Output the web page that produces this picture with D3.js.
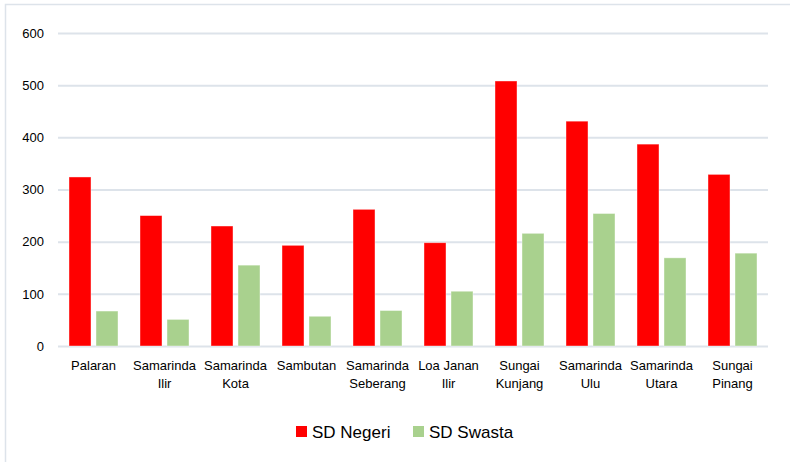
<!DOCTYPE html>
<html>
<head>
<meta charset="utf-8">
<script src="https://cdn.jsdelivr.net/npm/d3@7"></script>
<style>
  body { margin: 0; background: #fff; }
  text { font-family: "Liberation Sans", Arial, sans-serif; fill: #000; }
</style>
</head>
<body>
<div id="chart"></div>
<script>
// data
const categories = [
  ["Palaran"], ["Samarinda", "Ilir"], ["Samarinda", "Kota"], ["Sambutan"],
  ["Samarinda", "Seberang"], ["Loa Janan", "Ilir"], ["Sungai", "Kunjang"],
  ["Samarinda", "Ulu"], ["Samarinda", "Utara"], ["Sungai", "Pinang"]
];
const seriesNames = ["SD Negeri", "SD Swasta"];
const sdNegeri = [324, 250, 230, 193, 262, 198, 508, 431, 387, 329];
const sdSwasta = [67, 51, 155, 57, 68, 105, 216, 254, 169, 178];
const yTicks = [0, 100, 200, 300, 400, 500, 600];
const colors = ["#ff0000", "#a9d18e"];

const width = 790, height = 462;
const margin = {top: 33, left: 58, right: 22, bottom: 116};

const svg = d3.select("#chart").append("svg")
  .attr("width", width)
  .attr("height", height);

// outer frame
svg.append("rect")
  .attr("x", 5.5).attr("y", 4.5)
  .attr("width", 800).attr("height", 480)
  .attr("fill", "none")
  .attr("stroke", "#dde3ea")
  .attr("stroke-width", 1.5);

const keys = categories.map(d => d.join(" "));

const xScale = d3.scaleBand()
  .domain(keys)
  .range([margin.left, width - margin.right]);

const xInner = d3.scaleBand()
  .domain(seriesNames)
  .range([11, 60])
  .paddingInner(0.185);

const yScale = d3.scaleLinear()
  .domain([0, 600])
  .range([height - margin.bottom, margin.top]);

// gridlines
const yAxis = svg.append("g")
  .attr("transform", `translate(${margin.left},0)`)
  .call(d3.axisLeft(yScale).tickValues(yTicks)
    .tickSize(-(width - margin.left - margin.right)).tickPadding(14));
yAxis.select(".domain").remove();
yAxis.selectAll(".tick line").attr("stroke", "#dde3ea").attr("stroke-width", 2);
yAxis.selectAll(".tick text")
  .style("font-family", "'Liberation Sans', Arial, sans-serif")
  .style("font-size", "13px")
  .attr("fill", "#000");

// bars
const rows = keys.map((k, i) => ({key: k, values: [sdNegeri[i], sdSwasta[i]]}));

const groups = svg.selectAll("g.grp")
  .data(rows)
  .enter().append("g")
  .attr("class", "grp")
  .attr("transform", d => `translate(${xScale(d.key)},0)`);

groups.selectAll("rect")
  .data(d => d.values.map((v, j) => ({name: seriesNames[j], value: v, j: j})))
  .enter().append("rect")
  .attr("x", d => xInner(d.name))
  .attr("y", d => yScale(d.value))
  .attr("width", xInner.bandwidth())
  .attr("height", d => yScale(0) - yScale(d.value))
  .attr("fill", d => colors[d.j])
  .attr("stroke", "#fff")
  .attr("stroke-opacity", 0.5)
  .attr("stroke-width", 0.8);

// category labels
const labels = svg.selectAll("text.cat")
  .data(categories)
  .enter().append("text")
  .attr("class", "cat")
  .attr("text-anchor", "middle")
  .attr("x", (d, i) => xScale(keys[i]) + xScale.bandwidth() / 2)
  .attr("y", 370)
  .style("font-size", "13px");

labels.selectAll("tspan")
  .data(d => d)
  .enter().append("tspan")
  .attr("x", function() { return d3.select(this.parentNode).attr("x"); })
  .attr("dy", (d, i) => i === 0 ? 0 : 17.5)
  .text(d => d);

// legend
const legendX = [296, 413];
const legend = svg.selectAll("g.legend")
  .data(seriesNames)
  .enter().append("g")
  .attr("class", "legend")
  .attr("transform", (d, i) => `translate(${legendX[i]},426)`);

legend.append("rect")
  .attr("width", 11).attr("height", 11)
  .attr("fill", (d, i) => colors[i]);

legend.append("text")
  .attr("x", 16).attr("y", 11.5)
  .style("font-size", "17px")
  .text(d => d);
</script>
</body>
</html>
